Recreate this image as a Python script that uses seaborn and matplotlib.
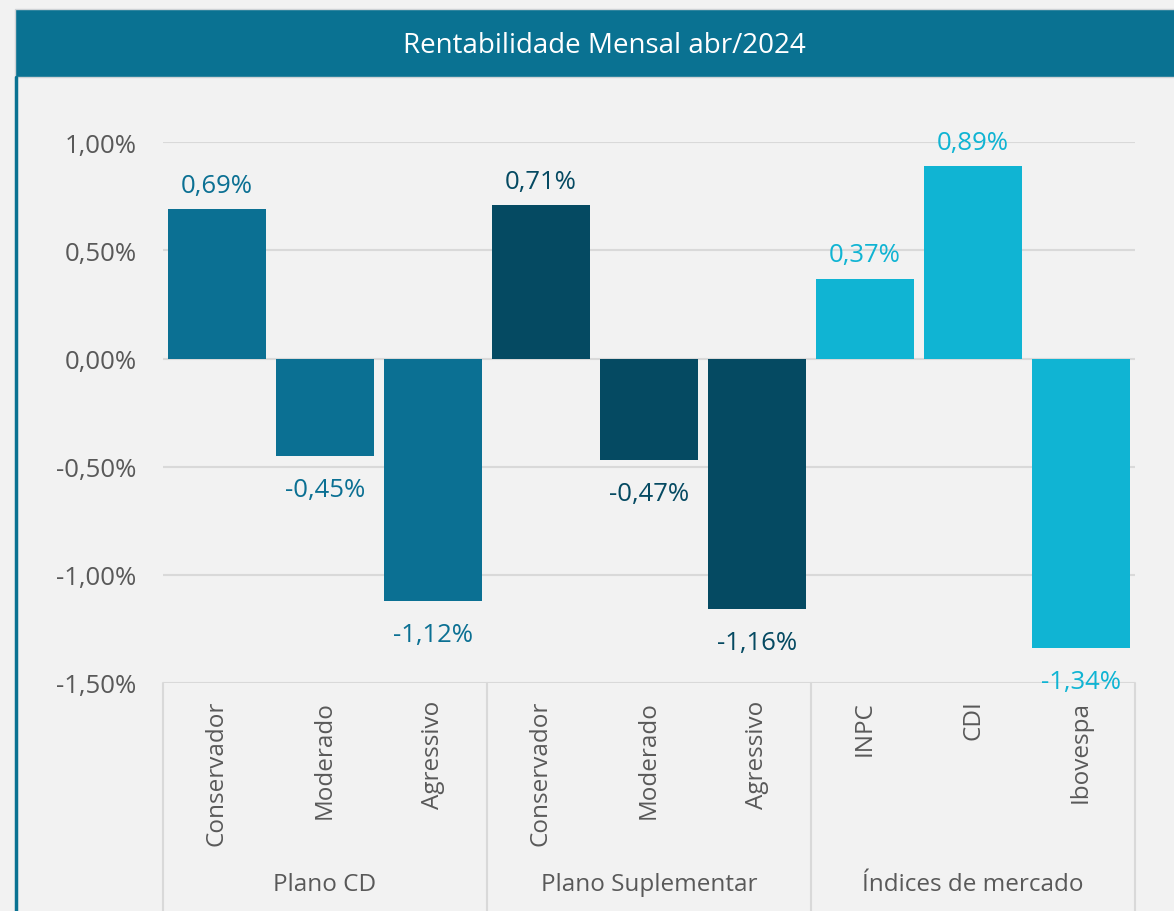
import pandas as pd
import matplotlib
matplotlib.use('Agg')
import matplotlib.pyplot as plt
import matplotlib.transforms as mtransforms
from matplotlib.patches import Rectangle
from matplotlib.ticker import FuncFormatter
import seaborn as sns

# dados (rentabilidade mensal, em %)
grupos = ['Plano CD', 'Plano Suplementar', 'Índices de mercado']
categorias = [
    ['Conservador', 'Moderado', 'Agressivo'],
    ['Conservador', 'Moderado', 'Agressivo'],
    ['INPC', 'CDI', 'Ibovespa'],
]
valores = [
    [0.69, -0.45, -1.12],
    [0.71, -0.47, -1.16],
    [0.37, 0.89, -1.34],
]
cores = ['#0b7093', '#054a62', '#10b4d3']

rows = []
for g, cats, vals in zip(grupos, categorias, valores):
    for c, v in zip(cats, vals):
        rows.append({'grupo': g, 'categoria': c, 'chave': g + '|' + c, 'valor': v})
df = pd.DataFrame(rows)


def fmt_pct(v):
    return f'{v:.2f}%'.replace('.', ',')


def plot_rentabilidade():
    sns.set_style('white')
    plt.rcParams['font.family'] = ['Open Sans', 'DejaVu Sans']

    fig = plt.figure(figsize=(11.74, 9.12), dpi=100)
    fig.patch.set_facecolor('#f2f2f2')

    # faixa do título e borda esquerda
    fig.patches.append(Rectangle((15 / 1174, 1 - 78 / 912), 1, 68 / 912,
                                 transform=fig.transFigure, facecolor='#0a7292',
                                 edgecolor='#cfd3d6', linewidth=1))
    fig.add_artist(plt.Line2D([16 / 1174, 16 / 1174], [0, 1 - 78 / 912],
                              transform=fig.transFigure, color='#0a7292', linewidth=2.5))
    fig.text(604 / 1174, 1 - 46 / 912, 'Rentabilidade Mensal abr/2024',
             color='white', fontsize=20, ha='center', va='center')

    ax = fig.add_axes([0.1388, 0.25, 0.828, 0.5929])
    ax.set_facecolor('#f2f2f2')

    sns.barplot(data=df, x='chave', y='valor', hue='grupo', order=list(df['chave']),
                hue_order=grupos, palette=cores, saturation=1, dodge=False, width=0.9,
                linewidth=0, legend=False, ax=ax, zorder=3)

    ax.set_ylim(-1.5, 1.0)
    ax.set_xlim(-0.5, len(df) - 0.5)
    ax.set_yticks([-1.5, -1.0, -0.5, 0.0, 0.5, 1.0])
    ax.yaxis.set_major_formatter(FuncFormatter(lambda v, p: fmt_pct(v)))
    ax.grid(axis='y', color='#d9d9d9', linewidth=1.5, zorder=0)
    ax.grid(axis='x', visible=False)
    for s in ax.spines.values():
        s.set_visible(False)
    ax.tick_params(axis='y', length=0, pad=19, labelsize=18.5, labelcolor='#595959')
    ax.set_xticks(range(len(df)))
    ax.set_xticklabels(df['categoria'], rotation=90, va='top')
    ax.tick_params(axis='x', length=0, pad=12, labelsize=17.5, labelcolor='#595959')
    ax.set_xlabel('')
    ax.set_ylabel('')

    # rótulos de dados (positivos acima, negativos abaixo com mais folga)
    for cont, g, cor in zip(ax.containers, grupos, cores):
        vals = list(df.loc[df['grupo'] == g, 'valor'])
        pos = [fmt_pct(v) if v >= 0 else '' for v in vals]
        neg = [fmt_pct(v) if v < 0 else '' for v in vals]
        ax.bar_label(cont, labels=pos, padding=8, fontsize=18.5, color=cor)
        ax.bar_label(cont, labels=neg, padding=15, fontsize=18.5, color=cor)

    # separadores e nomes dos grupos
    trans = mtransforms.blended_transform_factory(ax.transData, ax.transAxes)
    for xs in [-0.5, 2.5, 5.5, 8.5]:
        ax.plot([xs, xs], [0, -0.43], transform=trans, color='#d9d9d9',
                linewidth=1.5, clip_on=False)
    for i, g in enumerate(grupos):
        ax.text(i * 3 + 1, -0.372, g, transform=trans, ha='center', va='center',
                fontsize=17.5, color='#595959')

    plt.savefig('out.png', dpi=100, facecolor=fig.get_facecolor())


if __name__ == '__main__':
    plot_rentabilidade()
